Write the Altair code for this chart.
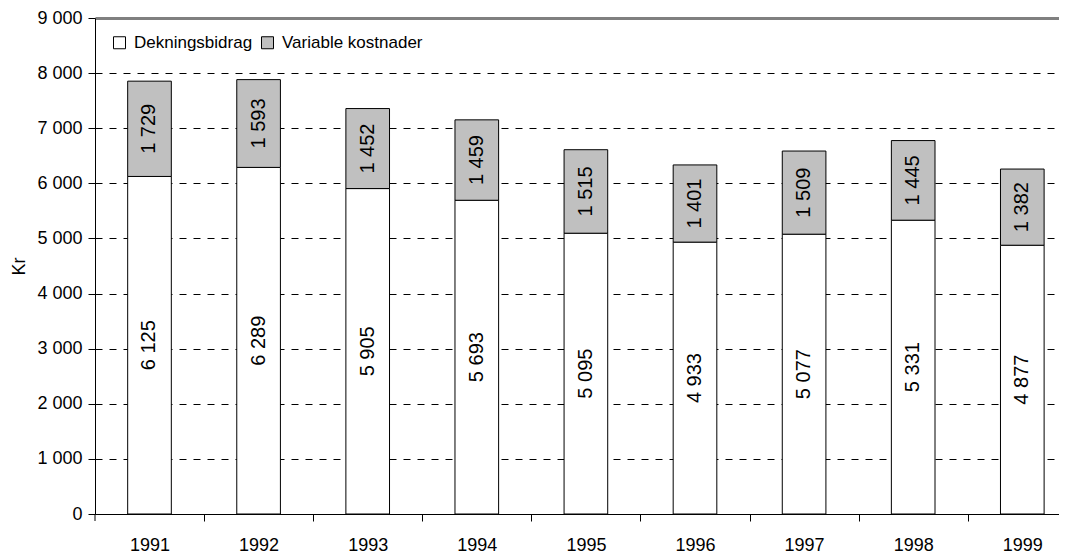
import altair as alt
import pandas as pd

years = ["1991", "1992", "1993", "1994", "1995", "1996", "1997", "1998", "1999"]
dekningsbidrag = [6125, 6289, 5905, 5693, 5095, 4933, 5077, 5331, 4877]
variable_kostnader = [1729, 1593, 1452, 1459, 1515, 1401, 1509, 1445, 1382]
series_names = ["Dekningsbidrag", "Variable kostnader"]
series_colors = ["#FFFFFF", "#C0C0C0"]
y_ticks = [0, 1000, 2000, 3000, 4000, 5000, 6000, 7000, 8000, 9000]

rows = []
for i, y in enumerate(years):
    rows.append({"year": y, "series": series_names[0], "value": dekningsbidrag[i], "order": 0})
    rows.append({"year": y, "series": series_names[1], "value": variable_kostnader[i], "order": 1})
df = pd.DataFrame(rows)

FONT = "Liberation Sans"
W, H = 964, 496
STEP = 109.1

base = alt.Chart(df).transform_stack(
    stack="value", groupby=["year"], as_=["v0", "v1"], sort=[alt.SortField("order")]
)

xscale = alt.Scale(paddingInner=0.6, paddingOuter=0.218, align=0.687)

bars = base.mark_bar(stroke="black", strokeWidth=1).encode(
    x=alt.X(
        "year:N",
        sort=years,
        scale=xscale,
        axis=alt.Axis(
            title=None,
            labelAngle=0,
            tickOffset=STEP / 2,
            labelOffset=-STEP / 2,
            tickSize=7,
            tickColor="black",
            domainColor="black",
            labelPadding=15,
            labelFontSize=18,
            labelFont=FONT,
            labelColor="black",
        ),
    ),
    y=alt.Y(
        "v0:Q",
        scale=alt.Scale(domain=[0, 9000], nice=False),
        axis=alt.Axis(
            title="Kr",
            values=y_ticks,
            labelExpr="replace(format(datum.value, ','), ',', ' ')",
            tickSize=7,
            tickColor="black",
            domainColor="black",
            labelPadding=6,
            labelFontSize=18,
            labelFont=FONT,
            labelColor="black",
            titleFontSize=18,
            titleFont=FONT,
            titleFontWeight="normal",
            titleColor="black",
            titleAngle=270,
            titleX=-76,
            titleY=248,
            titleAlign="center",
            titleBaseline="middle",
            grid=True,
            gridColor={"expr": "datum.value == 9000 ? '#808080' : 'black'"},
            gridWidth={"expr": "datum.value == 9000 ? 3 : 1"},
            gridDash={"expr": "datum.value == 9000 ? [] : [7, 7]"},
        ),
    ),
    y2="v1:Q",
    color=alt.Color(
        "series:N",
        scale=alt.Scale(domain=series_names, range=series_colors),
        legend=alt.Legend(
            title=None,
            orient="none",
            direction="horizontal",
            legendX=16,
            legendY=16,
            symbolType="square",
            symbolSize=144,
            symbolStrokeColor="black",
            symbolStrokeWidth=1,
            labelFontSize=17,
            labelFont=FONT,
            labelColor="black",
            labelOffset=6,
            columnPadding=6,
        ),
    ),
    order=alt.Order("order:Q"),
)

labels = base.transform_calculate(
    mid="(datum.v0 + datum.v1) / 2",
    lab="replace(format(datum.value, ','), ',', ' ')",
).mark_text(
    angle=270, fontSize=20, font=FONT, color="black", align="center", baseline="middle"
).encode(
    x=alt.X("year:N", sort=years, scale=xscale),
    y=alt.Y("mid:Q"),
    text="lab:N",
)

first_tick = alt.Chart(pd.DataFrame({"t": [0]})).mark_rule(color="black", strokeWidth=1).encode(
    x=alt.value(0), y=alt.value(H), y2=alt.value(H + 7)
)

chart = alt.layer(bars, labels, first_tick).properties(
    width=W,
    height=H,
    padding={"left": 87, "top": 10, "right": 0, "bottom": 41},
    autosize=alt.AutoSizeParams(type="none"),
).configure_view(stroke=None)

chart.save("out.html", embed_options={"renderer": "svg", "actions": False})
